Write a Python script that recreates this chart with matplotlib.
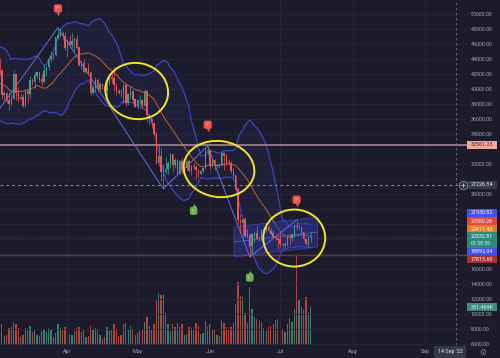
import numpy as np
import pandas as pd
import matplotlib
matplotlib.use('Agg')
import matplotlib.pyplot as plt
import matplotlib.dates as mdates
import matplotlib.transforms as mtransforms
from matplotlib.patches import Ellipse, Polygon, Rectangle

# daily candles 1 Mar - 14 Jul 2022
dates = pd.date_range('2022-03-01', '2022-07-14', freq='D')
first_open = 43160
closes = [44420, 43920, 42450, 39150, 39400, 38420, 37990, 38730, 41940, 39420, 38730, 38810, 37790, 39670, 39280,
          41110, 40920, 41760, 42200, 41260, 41000, 42360, 42880, 43960, 44340, 44500, 46820, 47130, 47430, 47060, 45530,
          46280, 45810, 46400, 46580, 45500, 43170, 43440, 42250, 42750, 42160, 39530, 40070, 41150, 39940, 40550,
          40400, 39720, 40820, 41500, 41370, 40480, 39710, 39470, 39450, 40430, 38110, 39240, 39740, 38600, 37640,
          38470, 38520, 37730, 39690, 36550, 36010, 35470, 34060, 30100, 31010, 28940, 28990, 29290, 30100, 31300,
          29860, 30420, 28720, 30300, 29200, 29430, 30320, 29100, 29650, 29540, 29200, 28630, 29030, 29470, 31730, 31800,
          29800, 30460, 29700, 29860, 29900, 31370, 31130, 30200, 30110, 29090, 28420, 26570, 22490, 22140, 22580,
          20380, 20470, 19020, 20550, 20710, 20000, 19970, 21100, 21230, 21490, 21030, 20730, 20280, 20100, 19930,
          19300, 19240, 19300, 20230, 20190, 20550, 21620, 21590, 21590, 20850, 19960, 19320, 20210, 20330]
highs = [44950, 45400, 44100, 42500, 39700, 39650, 39550, 39380, 42600, 42040, 40240, 39480, 39310, 39950, 39860,
         41720, 41480, 42330, 42400, 42300, 42000, 43360, 43000, 44200, 45090, 44800, 46920, 48190, 48100, 47700, 47600,
         46720, 47210, 47440, 46890, 47200, 45510, 43900, 43970, 42800, 43420, 42420, 40700, 41560, 41500, 40870,
         40710, 40620, 41140, 41760, 42200, 42980, 40800, 39980, 39950, 40620, 40800, 39480, 40380, 39930, 38800,
         38680, 39170, 38650, 40020, 39850, 36650, 36140, 35500, 34240, 32660, 32160, 30030, 30980, 30380, 31460,
         31320, 30790, 30700, 30550, 30780, 29620, 30470, 30680, 29840, 30200, 29850, 29400, 29230, 29580, 32230, 32400,
         31980, 30680, 30700, 29950, 30180, 31770, 31550, 31330, 30700, 30400, 29440, 28550, 26890, 23360, 22800,
         22980, 21360, 20800, 20800, 21000, 21730, 20400, 21200, 21510, 21620, 21870, 21500, 21190, 20400, 20180,
         20880, 19440, 19650, 20350, 20720, 20670, 21850, 22530, 21950, 21600, 20870, 20050, 20270, 20880]
lows = [42800, 43330, 41830, 38650, 38600, 38090, 37160, 37870, 38650, 38550, 38220, 38660, 37580, 37580, 38120,
        38830, 40500, 40140, 41500, 40920, 40470, 40890, 41800, 42550, 43600, 44060, 44420, 46660, 46940, 46550, 45200,
        44220, 45640, 45530, 45120, 45350, 43120, 42730, 42110, 42130, 42000, 39200, 39250, 39550, 39550, 39760,
        39990, 39550, 38540, 40570, 40820, 39740, 39180, 39300, 38900, 38200, 37700, 37860, 38850, 38180, 37580,
        37390, 38050, 37500, 37670, 35570, 35260, 34790, 33700, 30030, 29730, 27780, 26700, 28700, 28650, 29480,
        29090, 29480, 28650, 28650, 28720, 28940, 29240, 28880, 28600, 29310, 28020, 28260, 28480, 28800, 29300, 31200,
        29300, 29600, 29250, 29500, 29500, 29880, 29220, 29850, 29950, 28850, 28100, 26560, 22000, 20850, 20080,
        20230, 20250, 17620, 17950, 19640, 19950, 19770, 19870, 20900, 20900, 20980, 20500, 20200, 19850, 18630,
        18980, 18970, 18780, 19050, 19300, 19780, 20240, 21200, 21350, 20650, 19900, 19240, 18910, 19620]
# volume in thousands
volumes = [150, 170, 140, 190, 80, 90, 160, 170, 210, 190, 160, 70, 90, 160, 140, 180, 120, 150, 90, 80, 130, 150,
           120, 160, 150, 70, 110, 190, 160, 140, 170,
           130, 100, 90, 130, 160, 170, 120, 150, 70, 80, 180, 150, 160, 140, 90, 60, 70, 170, 130, 140, 190, 150, 80,
           90, 190, 200, 150, 180, 150, 90,
           110, 130, 140, 210, 260, 180, 140, 190, 430, 470, 460, 470, 300, 190, 130, 190, 170, 200, 170, 190, 90, 100,
           170, 160, 140, 200, 180, 100, 110, 220, 170,
           190, 140, 140, 90, 80, 230, 200, 170, 140, 170, 200, 380, 580, 450, 440, 300, 200, 540, 330, 260, 240, 230,
           210, 160, 130, 170, 180, 190, 230, 240,
           220, 150, 120, 190, 250, 210, 330, 830, 420, 350, 320, 440, 300, 351.469]
# closes 10 - 28 Feb, only used to start the bands
warmup_closes = [43560, 42390, 42200, 42080, 42540, 44540, 43880, 40540, 40000, 40120, 38430, 37010, 38250, 37260,
                 38330, 39210, 39110, 37700, 43190]

price_ticks = list(range(6000, 50001, 2000))
month_ticks = ['2022-04-01', '2022-05-01', '2022-06-01', '2022-07-01', '2022-08-01', '2022-09-01']
month_labels = ['Apr', 'May', 'Jun', 'Jul', 'Aug', 'Sep']

# price scale tags: (text, shown at price, box colour, text colour)
tags = [('32561.23', 32561.23, '#f3a89c', '#4a2326'),
        ('27226.54', 27226.54, '#363a47', '#e8e8ee'),
        ('21930.82', 23470, '#4650e8', '#ffffff'),
        ('20580.28', 22400, '#e2463d', '#ffffff'),
        ('20411.43', 21330, '#e47d22', '#ffffff'),
        ('18892.04', 18400, '#4650e8', '#ffffff'),
        ('17815.60', 17330, '#a8302f', '#ffffff')]
last_price = 20332.81
last_shown = 19860
countdown = '01:38:50'
hlines = [32561.23, 27226.54, 17815.60]

# zigzag pivots (date, price)
zz_dates = ['2022-02-24', '2022-03-28', '2022-05-12', '2022-05-31', '2022-06-18', '2022-07-08']
zz_prices = [34300, 48190, 26700, 32400, 17620, 22530]

# signal labels
sell_dates = ['2022-03-28', '2022-05-31', '2022-07-08']
sell_prices = [50000, 34500, 24500]
buy_dates = ['2022-05-25', '2022-06-18']
buy_prices = [24500, 15600]

# circles drawn by hand: centre date, centre price, width px, height px, angle
circles = [('2022-04-30 16:00', 39730, 63, 56, -12),
           ('2022-06-04 20:00', 29330, 71, 56, -8),
           ('2022-07-07 00:00', 20130, 62, 57, 0)]

# channel drawn on the July range
chan_dates = ['2022-06-11 06:00', '2022-07-17 00:00']
chan_top = [21600, 22930]
chan_bot = [17600, 18930]

bg = '#1c1b2c'
up_col, dn_col = '#3aa391', '#ef5350'
txt_col = '#a3a6b0'
plt.rcParams['font.family'] = ['Roboto', 'DejaVu Sans']

fig = plt.figure(figsize=(5, 3.58), dpi=100, facecolor=bg)
ax = fig.add_axes([0, 13 / 358, 468 / 500, 345 / 358])
ax.set_facecolor(bg)
for s in ax.spines.values():
    s.set_visible(False)

x = mdates.date2num(dates)
opens = [first_open] + closes[:-1]
o = np.array(opens); c = np.array(closes); h = np.array(highs); l = np.array(lows)
rising = c >= o

ax.set_xlim(mdates.date2num(pd.Timestamp('2022-03-03 05:00')), mdates.date2num(pd.Timestamp('2022-09-19 07:00')))
ax.set_ylim(5867, 51867)

# grid
for p in price_ticks:
    ax.axhline(p, color='#262638', lw=0.6, zorder=0)
ax.set_xticks(mdates.date2num(pd.to_datetime(month_ticks)))
ax.set_xticklabels(month_labels)
ax.tick_params(axis='x', length=0, pad=3.2, labelsize=3.9, labelcolor=txt_col)
ax.set_yticks([])
ax.grid(axis='x', color='#262638', lw=0.6)
ax.set_axisbelow(True)

# volume on its own scale
axv = ax.twinx()
axv.set_ylim(0, 3191)
axv.set_yticks([])
for s in axv.spines.values():
    s.set_visible(False)
vol_cols = np.where(rising, '#3b7d75', '#b2463f')
axv.bar(x, volumes, width=0.55, color=vol_cols, zorder=1)
ax.set_zorder(axv.get_zorder() + 1)
ax.patch.set_visible(False)
axv.patch.set_visible(False)

# bollinger bands
s = pd.Series(warmup_closes + closes)
mid = s.rolling(20).mean().to_numpy()[-len(closes):]
sd = s.rolling(20).std(ddof=0).to_numpy()[-len(closes):]
upper, lower = mid + 2 * sd, mid - 2 * sd
ax.fill_between(x, upper, lower, color='#2d3566', alpha=0.22, lw=0, zorder=1)
ax.plot(x, upper, color='#3c44c4', lw=0.9, zorder=2)
ax.plot(x, lower, color='#3c44c4', lw=0.9, zorder=2)
ax.plot(x, mid, color='#b8652c', lw=0.7, zorder=2)

# horizontal levels
ax.axhline(hlines[0], color='#9c7e86', lw=1.3, zorder=2)
ax.axhline(hlines[1], color='#8a8d98', lw=0.7, dashes=(3, 3), zorder=2)
ax.axhline(hlines[2], color='#7e2e33', lw=1.0, zorder=2)
ax.axhline(last_price, color='#2d6e66', lw=0.5, dashes=(1, 2), zorder=2)
ax.axvline(mdates.date2num(pd.Timestamp('2022-09-14')), color='#6d707c', lw=0.6, dashes=(3, 3), zorder=2)

# channel
cx = mdates.date2num(pd.to_datetime(chan_dates))
chan = Polygon([(cx[0], chan_top[0]), (cx[1], chan_top[1]), (cx[1], chan_bot[1]), (cx[0], chan_bot[0])],
               closed=True, fc='#3338a8', ec='#5a63e0', lw=0.6, alpha=0.45, zorder=3)
ax.add_patch(chan)
ax.plot(cx, [(chan_top[0] + chan_bot[0]) / 2, (chan_top[1] + chan_bot[1]) / 2], color='#5a63e0', lw=0.5, zorder=3)

# zigzag
ax.plot(mdates.date2num(pd.to_datetime(zz_dates)), zz_prices, color='#5f6fd6', lw=0.7, zorder=3)

# candles
cols = np.where(rising, up_col, dn_col)
ax.vlines(x, l, h, colors=cols, lw=0.5, zorder=4)
ax.bar(x, np.abs(c - o) + 60, bottom=np.minimum(o, c), width=0.6, color=cols, zorder=4)

# signal labels
for d, p in zip(sell_dates, sell_prices):
    xd = mdates.date2num(pd.Timestamp(d))
    ax.plot(xd, p, marker='v', ms=2.5, color='#f05350', mec='none', zorder=6)
    ax.annotate('UP', (xd, p), xytext=(0, 4), textcoords='offset points', ha='center', va='center',
                fontsize=2.2, color='#ffd0cc',
                bbox=dict(boxstyle='round,pad=0.7', fc='#f05350', ec='none'), zorder=6)
for d, p in zip(buy_dates, buy_prices):
    xd = mdates.date2num(pd.Timestamp(d))
    ax.plot(xd, p, marker='^', ms=2.5, color='#6aae55', mec='none', zorder=6)
    ax.annotate('LL', (xd, p), xytext=(0, -4), textcoords='offset points', ha='center', va='center',
                fontsize=2.2, color='#d8f0d0',
                bbox=dict(boxstyle='round,pad=0.7', fc='#6aae55', ec='none'), zorder=6)

# yellow circles
for d, p, w, hh, ang in circles:
    tr = fig.dpi_scale_trans + mtransforms.ScaledTranslation(mdates.date2num(pd.Timestamp(d)), p, ax.transData)
    ax.add_patch(Ellipse((0, 0), w / 100, hh / 100, angle=ang, transform=tr, fill=False,
                         ec='#f2e52b', lw=1.4, zorder=7))

# price scale
yt = ax.get_yaxis_transform()
ppx = 1 / 0.0075  # price units per pixel
taken = [t[1] for t in tags] + [last_shown - 4 * ppx, last_shown + 4 * ppx]
for p in price_ticks:
    if min(abs(p - q) for q in taken) < 6 * ppx:
        continue  # hidden behind a tag, as on the chart
    ax.text(1.0064, p, '%.2f' % p, transform=yt, ha='left', va='center', fontsize=3.9, color=txt_col,
            clip_on=False, zorder=8)

def tag(txt, p, fc, tc, hpx=8):
    ax.add_patch(Rectangle((0.9979, p - hpx / 2 * ppx), 0.064, hpx * ppx, transform=yt, fc=fc, ec='none',
                           clip_on=False, zorder=9))
    ax.text(1.0064, p, txt, transform=yt, ha='left', va='center', fontsize=3.9, color=tc, clip_on=False, zorder=10)

for txt, p, fc, tc in tags:
    tag(txt, p, fc, tc)
# last price with countdown
ax.add_patch(Rectangle((0.9979, last_shown - 8 * ppx), 0.064, 16 * ppx, transform=yt, fc='#2c8a7b', ec='none',
                       clip_on=False, zorder=9))
ax.text(1.0064, last_shown + 3.5 * ppx, '%.2f' % last_price, transform=yt, ha='left', va='center', fontsize=3.9,
        color='#ffffff', clip_on=False, zorder=10)
ax.text(1.0064, last_shown - 3.5 * ppx, countdown, transform=yt, ha='left', va='center', fontsize=3.9,
        color='#cfe9e4', clip_on=False, zorder=10)
# crosshair plus icon
ax.plot(1 - 5 / 468, hlines[1], marker='o', ms=6, mfc='#2a2c3a', mec='#8a8d98', mew=0.6, transform=yt,
        clip_on=False, zorder=10)
ax.plot(1 - 5 / 468, hlines[1], marker='+', ms=3, color='#c8cad2', mew=0.6, transform=yt, clip_on=False, zorder=11)

# current volume tag
vt = axv.get_yaxis_transform()
vpx = 351.469 / 38
axv.add_patch(Rectangle((0.9979, volumes[-1] - 4 * vpx), 0.064, 8 * vpx, transform=vt, fc='#3f8c7e', ec='none',
                        clip_on=False, zorder=9))
axv.text(1.0064, volumes[-1], '351.469K', transform=vt, ha='left', va='center', fontsize=3.9, color='#e6f2ef',
         clip_on=False, zorder=10)

# date box and gear
fig.text(450 / 500, 1 - 352 / 358, "14 Sep '22", ha='center', va='center', fontsize=3.9, color='#e0e2e8',
         bbox=dict(boxstyle='square,pad=0.6', fc='#363a47', ec='none'))
fig.text(483 / 500, 1 - 352 / 358, '\u2699', ha='center', va='center', fontsize=5.5, color='#8a8d98',
         family='DejaVu Sans')

fig.savefig('out.png', dpi=100, facecolor=bg)
